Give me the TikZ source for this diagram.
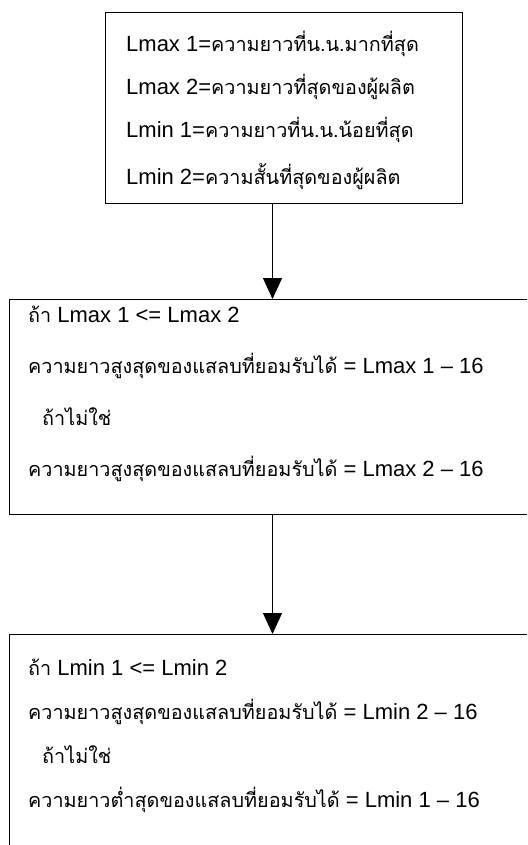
\documentclass[tikz,border=0pt]{standalone}
\usepackage{fontspec}
\setmainfont{Liberation Sans}
\newfontfamily\thaifont[Script=Thai,Scale=0.9]{Loma}
\newcommand{\T}[1]{{\thaifont #1}}
\usetikzlibrary{arrows.meta}
\tikzset{
  box/.style={draw=black, line width=1.3pt, rectangle, inner sep=0pt, anchor=north west},
  txt/.style={anchor=base west, inner sep=0pt, font=\fontsize{22}{26}\selectfont},
  arr/.style={line width=1.3pt, -{Triangle[length=21pt,width=19pt]}}
}
\begin{document}
\begin{tikzpicture}[x=1pt,y=1pt]
\useasboundingbox (0,0) rectangle (527,-845);
\clip (0,0) rectangle (527,-845);
\fill[white] (0,0) rectangle (527,-845);
% boxes
\node[box, minimum width=357pt, minimum height=191pt] (top) at (105,-12) {};
\node[box, minimum width=540pt, minimum height=215pt] (mid) at (9,-299) {};
\node[box, minimum width=540pt, minimum height=240pt] (bot) at (9,-634) {};
% top box text
\node[txt] (t1) at (126,-52) {Lmax 1=\T{ความยาวที่น.น.มากที่สุด}};
\node[txt] (t2) at (126,-95) {Lmax 2=\T{ความยาวที่สุดของผู้ผลิต}};
\node[txt] (t3) at (126,-138) {Lmin 1=\T{ความยาวที่น.น.น้อยที่สุด}};
\node[txt] (t4) at (126,-184) {Lmin 2=\T{ความสั้นที่สุดของผู้ผลิต}};
% middle box text
\node[txt] (m1) at (28,-322) {\T{ถ้า} Lmax 1 <= Lmax 2};
\node[txt] (m2) at (28,-373) {\T{ความยาวสูงสุดของแสลบที่ยอมรับได้} = Lmax 1 – 16};
\node[txt] (m3) at (42,-425) {\T{ถ้าไม่ใช่}};
\node[txt] (m4) at (28,-476) {\T{ความยาวสูงสุดของแสลบที่ยอมรับได้} = Lmax 2 – 16};
% bottom box text
\node[txt] (b1) at (28,-675) {\T{ถ้า} Lmin 1 <= Lmin 2};
\node[txt] (b2) at (28,-719) {\T{ความยาวสูงสุดของแสลบที่ยอมรับได้} = Lmin 2 – 16};
\node[txt] (b3) at (42,-763) {\T{ถ้าไม่ใช่}};
\node[txt] (b4) at (28,-807) {\T{ความยาวต่ำสุดของแสลบที่ยอมรับได้} = Lmin 1 – 16};
% arrows
\coordinate (ax) at (272.5,0);
\draw[arr] (top.south -| ax) -- (mid.north -| ax);
\draw[arr] (mid.south -| ax) -- (bot.north -| ax);
\end{tikzpicture}
\end{document}
